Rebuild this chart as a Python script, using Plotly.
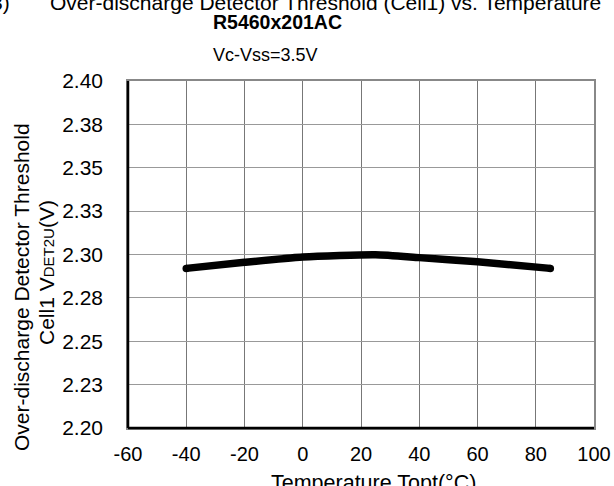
import plotly.graph_objects as go

# Data
temps = [-40, -20, 0, 25, 40, 60, 85]
vdet = [2.2920, 2.2955, 2.2985, 2.2998, 2.2982, 2.2958, 2.2920]
ytick_vals = [2.2, 2.225, 2.25, 2.275, 2.3, 2.325, 2.35, 2.375, 2.4]
ytick_text = ["2.20", "2.23", "2.25", "2.28", "2.30", "2.33", "2.35", "2.38", "2.40"]
xtick_vals = [-60, -40, -20, 0, 20, 40, 60, 80, 100]
xtick_text = ["-60", "-40", "-20", "0", "20", "40", "60", "80", "100"]

W, H = 614, 486
L, R, T, B = 128, 20, 81, 58
pw, ph = W - L - R, H - T - B

def px_x(x):
    return (x - L) / pw

def px_y(y):
    return (H - B - y) / ph

FONT = "Liberation Sans, Arial, sans-serif"

fig = go.Figure()
fig.add_trace(go.Scatter(
    x=temps, y=vdet, mode="lines",
    line=dict(color="black", width=7.5, shape="spline", smoothing=0.6),
    hoverinfo="skip", showlegend=False,
))
# round caps at ends
fig.add_trace(go.Scatter(
    x=[temps[0], temps[-1]], y=[vdet[0], vdet[-1]], mode="markers",
    marker=dict(color="black", size=7.5, line=dict(width=0)),
    hoverinfo="skip", showlegend=False,
))

fig.update_layout(
    width=W, height=H,
    margin=dict(l=L, r=R, t=T, b=B, pad=0, autoexpand=False),
    paper_bgcolor="white", plot_bgcolor="white",
    font=dict(family=FONT, size=20, color="black"),
    xaxis=dict(
        range=[-60, 100], tickvals=xtick_vals, ticktext=xtick_text, ticks="",
        showgrid=True, gridcolor="#777777", gridwidth=1, showline=True,
        mirror=True, linecolor="#888888", linewidth=1.5, zeroline=False,
        ticklabelstandoff=7, tickfont=dict(size=20), automargin=False,
    ),
    yaxis=dict(
        range=[2.2, 2.4], tickvals=ytick_vals, ticktext=ytick_text, ticks="",
        showgrid=True, gridcolor="#999999", gridwidth=1, showline=True,
        mirror=True, linecolor="#888888", linewidth=1.5, zeroline=False,
        ticklabelstandoff=19, tickfont=dict(size=21), automargin=False,
    ),
    shapes=[
        dict(type="line", xref="paper", yref="paper", x0=0, x1=0, y0=0, y1=1,
             line=dict(color="black", width=2.5), layer="above"),
        dict(type="line", xref="paper", yref="paper", x0=0, x1=1, y0=0, y1=0,
             line=dict(color="black", width=2.5), layer="above"),
    ],
    annotations=[
        dict(text="8)", xref="paper", yref="paper", x=px_x(12), y=px_y(11),
             xanchor="right", yanchor="bottom", showarrow=False,
             font=dict(size=21), yshift=-5),
        dict(text="Over-discharge Detector Threshold (Cell1) vs. Temperature",
             xref="paper", yref="paper", x=px_x(48), y=px_y(11),
             xanchor="left", yanchor="bottom", showarrow=False,
             font=dict(size=21), yshift=-5),
        dict(text="<b>R5460x201AC</b>", xref="paper", yref="paper",
             x=px_x(277), y=px_y(30), xanchor="center", yanchor="bottom",
             showarrow=False, font=dict(size=19.5), yshift=-5),
        dict(text="Vc-Vss=3.5V", xref="paper", yref="paper",
             x=px_x(265), y=px_y(62), xanchor="center", yanchor="bottom",
             showarrow=False, font=dict(size=18), yshift=-5),
        dict(text="Temperature Topt(°C)", xref="paper", yref="paper",
             x=px_x(373), y=px_y(469), xanchor="center", yanchor="top",
             showarrow=False, font=dict(size=21.5)),
        dict(text="Over-discharge Detector Threshold", xref="paper", yref="paper",
             x=px_x(21), y=px_y(287), xanchor="center", yanchor="middle",
             textangle=-90, showarrow=False, font=dict(size=21)),
        dict(text="Cell1 V<span style='font-size:15px'>DET2U</span>(V)",
             xref="paper", yref="paper",
             x=px_x(46), y=px_y(273), xanchor="center", yanchor="middle",
             textangle=-90, showarrow=False, font=dict(size=21)),
    ],
)

fig.write_html(
    "out.html",
    config={"displayModeBar": False},
    post_script="document.body.style.margin='0';document.body.style.overflow='hidden';",
)
